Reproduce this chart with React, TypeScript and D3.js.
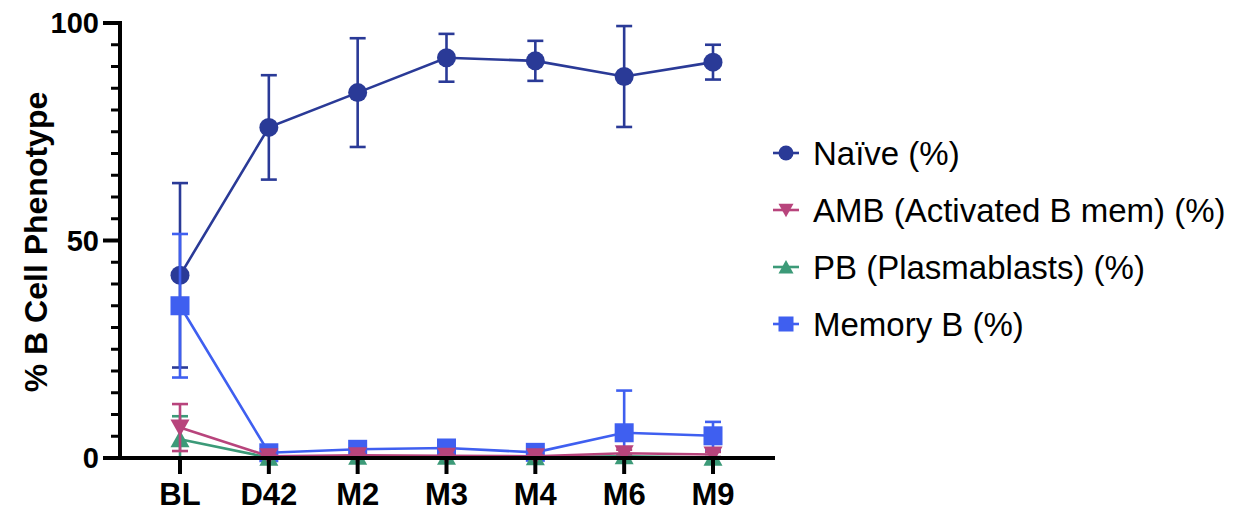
import React from "react";
import * as d3 from "d3";

const categories = ["BL", "D42", "M2", "M3", "M4", "M6", "M9"];

const naiveMean = [42, 76, 84, 92, 91.3, 87.7, 91];
const naiveSD = [21.2, 12, 12.5, 5.5, 4.6, 11.6, 4];

const ambMean = [7.0, 0.4, 0.6, 0.5, 0.4, 1.1, 0.8];
const ambSD = [5.4, 0.3, 0.4, 0.3, 0.3, 0.8, 0.6];

const pbMean = [4.3, 0.1, 0.3, 0.3, 0.2, 0.4, 0.1];
const pbSD = [5.3, 0.1, 0.2, 0.2, 0.2, 0.3, 0.1];

const memMean = [35, 1.2, 2.0, 2.3, 1.3, 5.8, 5.1];
const memSD = [16.5, 0.5, 0.8, 0.8, 0.5, 9.7, 3.2];

const yTicksMajor = [0, 50, 100];

type Shape = "circle" | "down" | "up" | "square";

const series: { name: string; mean: number[]; sd: number[]; color: string; shape: Shape }[] = [
  { name: "Naïve (%)", mean: naiveMean, sd: naiveSD, color: "#2a3a97", shape: "circle" },
  { name: "Memory B (%)", mean: memMean, sd: memSD, color: "#3f5ff0", shape: "square" },
  { name: "PB (Plasmablasts) (%)", mean: pbMean, sd: pbSD, color: "#3c9a78", shape: "up" },
  { name: "AMB (Activated B mem) (%)", mean: ambMean, sd: ambSD, color: "#b8447c", shape: "down" },
];

const legendOrder = [0, 3, 2, 1];

const FONT = "'Liberation Sans', Arial, Helvetica, sans-serif";

function Marker({ shape, x, y, size, color }: { shape: Shape; x: number; y: number; size: number; color: string }) {
  const h = size / 2;
  if (shape === "circle") return <circle cx={x} cy={y} r={h} fill={color} />;
  if (shape === "square") return <rect x={x - h} y={y - h} width={size} height={size} fill={color} />;
  if (shape === "down")
    return <path d={`M${x - h},${y - h * 0.85}L${x + h},${y - h * 0.85}L${x},${y + h * 0.95}Z`} fill={color} />;
  return <path d={`M${x - h},${y + h * 0.85}L${x + h},${y + h * 0.85}L${x},${y - h * 0.95}Z`} fill={color} />;
}

export default function App() {
  const W = 1253;
  const H = 512;
  const x = d3.scalePoint<string>().domain(categories).range([180, 713]);
  const y = d3.scaleLinear().domain([0, 100]).range([458, 23]);
  const minor = d3.range(0, 101, 5);
  const line = d3
    .line<number>()
    .x((_, i) => x(categories[i]) as number)
    .y((d) => y(d));
  const capW = 8;

  return (
    <svg
      width={W}
      height={H}
      style={{ position: "absolute", left: 0, top: 0, background: "#fff" }}
      fontFamily={FONT}
    >
      <defs>
        <clipPath id="plot">
          <rect x={120} y={0} width={700} height={458} />
        </clipPath>
      </defs>
      {/* series */}
      {series.map((s, si) => (
        <g key={si}>
          <g clipPath="url(#plot)">
            {s.mean.map((m, i) => {
              const cx = x(categories[i]) as number;
              const hi = y(m + s.sd[i]);
              const lo = y(Math.max(m - s.sd[i], -2));
              return (
                <g key={i} stroke={s.color} strokeWidth={2.6}>
                  <line x1={cx} x2={cx} y1={hi} y2={lo} />
                  <line x1={cx - capW} x2={cx + capW} y1={hi} y2={hi} />
                  <line x1={cx - capW} x2={cx + capW} y1={lo} y2={lo} />
                </g>
              );
            })}
          </g>
          <path d={line(s.mean) || ""} fill="none" stroke={s.color} strokeWidth={2.6} />
          {s.mean.map((m, i) => (
            <Marker key={i} shape={s.shape} x={x(categories[i]) as number} y={y(m)} size={19} color={s.color} />
          ))}
        </g>
      ))}

      {/* y axis */}
      <g stroke="#000">
        <line x1={120} x2={120} y1={y(100) - 2} y2={y(0) + 2} strokeWidth={4} />
        {minor.map((v) => {
          const major = yTicksMajor.includes(v);
          return (
            <line key={v} x1={major ? 103 : 111} x2={120} y1={y(v)} y2={y(v)} strokeWidth={major ? 4 : 3} />
          );
        })}
      </g>
      {yTicksMajor.map((v) => (
        <text
          key={v}
          x={99}
          y={y(v)}
          dy="0.36em"
          textAnchor="end"
          fontSize={29}
          fontWeight="bold"
          fill="#000"
        >
          {v}
        </text>
      ))}
      <text
        transform="translate(47,242) rotate(-90)"
        textAnchor="middle"
        fontSize={32}
        fontWeight="bold"
        fill="#000"
      >
        % B Cell Phenotype
      </text>

      {/* x axis */}
      <g stroke="#000">
        <line x1={118} x2={775} y1={458} y2={458} strokeWidth={4} />
        {categories.map((c) => (
          <line key={c} x1={x(c) as number} x2={x(c) as number} y1={458} y2={474} strokeWidth={4} />
        ))}
      </g>
      {categories.map((c) => (
        <text key={c} x={x(c) as number} y={505} textAnchor="middle" fontSize={31} fontWeight="bold" fill="#000">
          {c}
        </text>
      ))}

      {/* legend */}
      {legendOrder.map((si, k) => {
        const s = series[si];
        const ly = 153 + k * 57;
        return (
          <g key={si}>
            <line x1={773} x2={799} y1={ly} y2={ly} stroke={s.color} strokeWidth={2.6} />
            <Marker shape={s.shape} x={786} y={ly} size={15} color={s.color} />
            <text x={813} y={ly + 12} fontSize={33} fill="#000">
              {s.name}
            </text>
          </g>
        );
      })}
    </svg>
  );
}
